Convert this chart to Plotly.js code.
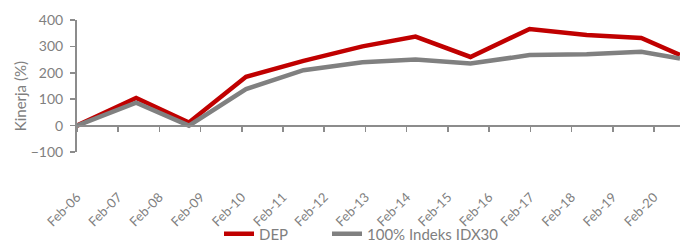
<!DOCTYPE html>
<html>
<head>
<meta charset="utf-8">
<script src="https://cdn.plot.ly/plotly-3.0.1.min.js"></script>
<style>html,body{margin:0;padding:0;background:#fff;}#chart{width:680px;height:245px;}</style>
</head>
<body>
<div id="chart"></div>
<script>
// Data
const dates = ["2006-02-01", "2007-07-10", "2008-10-20", "2010-03-10", "2011-08-01", "2013-01-05",
               "2014-04-20", "2015-08-20", "2017-01-25", "2018-06-15", "2019-10-12", "2020-09-19"];
const dep   = [0, 105, 12, 185, 245, 300, 337, 260, 366, 343, 332, 268];
const idx30 = [0, 87, 0, 138, 210, 240, 250, 235, 267, 270, 280, 254];
const seriesNames = ["DEP", "100% Indeks IDX30"];
const yTicks = [-100, 0, 100, 200, 300, 400];
const xRange = ["2006-02-01", "2020-09-19"];
const yRange = [-100, 400];
const yTitle = "Kinerja (%)";

const txt = "#7f7f7f";
const fontFam = "Lato, 'Noto Sans', sans-serif";

const traces = [
  {x: dates, y: dep, name: seriesNames[0], type: "scatter", mode: "lines",
   line: {color: "#c00000", width: 4.5}, legend: "legend"},
  {x: dates, y: idx30, name: seriesNames[1], type: "scatter", mode: "lines",
   line: {color: "#808080", width: 4.5}, legend: "legend2"}
];

const legendBase = {orientation: "h", xanchor: "left", yref: "container", y: 0.045, yanchor: "middle",
                    font: {size: 15, color: txt, family: fontFam}, bgcolor: "rgba(0,0,0,0)"};

const layout = {
  width: 680, height: 245,
  margin: {l: 77, r: 0, t: 20, b: 93, autoexpand: false},
  paper_bgcolor: "#fff", plot_bgcolor: "#fff",
  font: {family: fontFam, color: txt},
  showlegend: true,
  legend: Object.assign({}, legendBase, {x: 0.2355}),
  legend2: Object.assign({}, legendBase, {x: 0.4146}),
  xaxis: {
    type: "date", range: xRange, anchor: "free", position: 0.2,
    tickformat: "%b-%y", tick0: "2006-02-01", dtick: "M12",
    ticks: "outside", ticklen: 5, tickwidth: 1.5, tickcolor: "#8c8c8c",
    showline: true, linecolor: "#8c8c8c", linewidth: 2,
    showgrid: false, zeroline: false,
    tickangle: -45, ticklabelstandoff: 53,
    tickfont: {size: 13, color: txt, family: fontFam},
    automargin: false
  },
  yaxis: {
    range: yRange, tickvals: yTicks,
    ticks: "outside", ticklen: 5, tickwidth: 1.5, tickcolor: "#8c8c8c",
    showline: true, linecolor: "#8c8c8c", linewidth: 2,
    showgrid: false, zeroline: false,
    tickfont: {size: 14, color: txt, family: fontFam},
    ticklabelstandoff: 4,
    automargin: false
  },
  annotations: [{
    text: yTitle, xref: "paper", yref: "paper", x: -0.095, y: 0.42,
    xanchor: "center", yanchor: "middle", textangle: -90, showarrow: false,
    font: {size: 15, color: txt, family: fontFam}
  }]
};

Plotly.newPlot("chart", traces, layout, {displayModeBar: false, staticPlot: true});
</script>
</body>
</html>
